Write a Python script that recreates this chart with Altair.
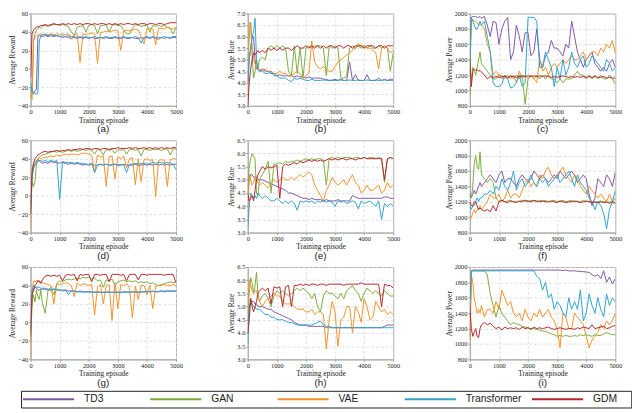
import altair as alt
import pandas as pd

# ---------------- data ----------------
episodes = [0, 50, 100, 150, 200, 250, 300, 350, 400,
            500, 600, 700, 800, 900, 1000, 1100, 1200, 1300, 1400,
            1500, 1600, 1700, 1800, 1900, 2000, 2100, 2200, 2300, 2400,
            2500, 2600, 2700, 2800, 2900, 3000, 3100, 3200, 3300, 3400,
            3500, 3600, 3700, 3800, 3900, 4000, 4100, 4200, 4300, 4400,
            4500, 4600, 4700, 4800, 4900, 5000]

series_names = ["TD3", "GAN", "VAE", "Transformer", "GDM"]
series_colors = ["#7E57A8", "#7AAC3C", "#F3922A", "#2EA3CB", "#B8262B"]

# (a) reward
a_td3 = [-20, -25, -27, -24, -22, 35, 36, 36, 35,
         36, 35, 36, 35, 36, 35, 34, 35, 34, 33,
         34, 33, 34, 33, 34, 33, 34, 33, 33, 34,
         33, 34, 33, 33, 34, 33, 33, 34, 33, 33,
         34, 33, 33, 34, 33, 34, 33, 34, 33, 32,
         34, 33, 34, 33, 34, 34]
a_gan = [-30, -28, 30, 38, 42, 44, 45, 44, 46,
         47, 46, 47, 48, 48, 47, 48, 47, 46, 40,
         36, 45, 46, 47, 40, 47, 48, 47, 38, 47,
         47, 48, 40, 47, 48, 47, 47, 42, 38, 38,
         44, 48, 47, 46, 47, 47, 40, 47, 46, 47,
         46, 47, 45, 44, 38, 44]
a_vae = [-25, -33, 30, 34, 36, 37, 37, 38, 37,
         38, 37, 38, 37, 38, 37, 38, 37, 38, 32,
         37, 38, 7, 38, 37, 38, 39, 38, 6, 39,
         40, 41, 40, 41, 42, 41, 20, 41, 42, 41,
         42, 43, 42, 35, 27, 43, 44, 43, 26, 44,
         44, 43, 45, 44, 43, 45]
a_trf = [-15, -22, -27, -27, -27, -26, 30, 36, 37,
         37, 36, 37, 36, 36, 35, 36, 35, 36, 35,
         35, 34, 35, 34, 35, 34, 34, 35, 34, 34,
         34, 35, 34, 34, 35, 34, 34, 35, 34, 34,
         34, 35, 34, 28, 34, 35, 34, 35, 34, 34,
         34, 35, 34, 34, 35, 35]
a_gdm = [-10, 38, 42, 44, 45, 46, 46, 47, 47,
         48, 47, 48, 49, 48, 48, 49, 48, 49, 48,
         49, 48, 49, 48, 49, 49, 48, 49, 48, 49,
         49, 48, 49, 48, 49, 48, 49, 48, 49, 49,
         48, 49, 48, 49, 49, 48, 49, 49, 48, 49,
         49, 48, 49, 50, 50, 50]

# (b) rate
b_td3 = [4.0, 5.0, 5.5, 6.0, 6.0, 5.0, 4.6, 4.6, 4.5,
         4.6, 4.5, 4.5, 4.4, 4.4, 4.3, 4.35, 4.3, 4.3, 4.3,
         4.3, 4.25, 4.3, 4.25, 4.25, 4.2, 4.25, 4.2, 4.2, 4.2,
         4.2, 4.15, 4.15, 4.1, 4.1, 4.15, 4.1, 4.15, 4.1, 4.1,
         4.9, 4.1, 4.35, 4.1, 4.1, 4.1, 4.35, 4.1, 4.1, 4.1,
         4.2, 4.1, 4.15, 4.1, 4.15, 4.15]
b_gan = [5.0, 6.0, 6.6, 5.2, 4.2, 4.5, 5.0, 4.6, 5.0,
         5.1, 5.0, 5.5, 5.6, 5.5, 5.6, 5.5, 5.6, 5.5, 4.5,
         4.3, 5.6, 4.4, 5.5, 4.2, 5.5, 5.6, 5.5, 5.6, 5.6,
         5.6, 5.5, 4.3, 5.6, 5.5, 5.6, 5.5, 4.2, 4.2, 4.3,
         5.5, 5.6, 5.5, 5.6, 5.5, 5.6, 5.5, 5.6, 5.5, 5.5,
         5.6, 5.5, 5.6, 5.5, 4.5, 5.3]
b_vae = [4.5, 6.6, 6.6, 5.5, 5.0, 4.8, 4.7, 4.6, 4.6,
         4.5, 4.6, 4.5, 4.5, 4.4, 4.4, 4.5, 4.4, 4.4, 4.3,
         4.3, 4.4, 4.5, 4.4, 4.2, 4.3, 4.4, 5.8, 4.9, 4.7,
         4.6, 4.7, 4.6, 4.5, 4.5, 4.7, 4.9, 5.0, 5.1, 5.2,
         5.3, 5.4, 5.5, 5.7, 5.6, 5.6, 5.5, 5.5, 5.4, 5.3,
         4.6, 5.5, 5.6, 5.5, 5.3, 5.4]
b_trf = [4.0, 5.0, 5.5, 6.0, 6.2, 6.8, 5.0, 4.6, 4.5,
         4.5, 4.4, 4.4, 4.5, 4.3, 4.3, 4.2, 4.2, 4.2, 4.1,
         4.05, 4.2, 4.15, 4.2, 4.15, 4.1, 4.1, 4.15, 4.1, 4.1,
         4.1, 4.12, 4.1, 4.1, 4.12, 4.1, 4.1, 4.12, 4.1, 4.1,
         4.12, 4.1, 4.1, 4.12, 4.1, 4.1, 4.12, 4.1, 4.1, 4.12,
         4.1, 4.1, 4.12, 4.1, 4.1, 4.1]
b_gdm = [3.0, 4.0, 4.6, 5.0, 5.3, 5.2, 5.3, 5.4, 5.3,
         5.4, 5.3, 5.5, 5.4, 5.5, 5.4, 5.5, 5.4, 5.5, 5.5,
         5.4, 5.5, 5.6, 5.5, 5.5, 5.6, 5.5, 5.6, 5.5, 5.6,
         5.5, 5.6, 5.5, 5.6, 5.6, 5.5, 5.6, 5.6, 5.5, 5.6,
         5.6, 5.5, 5.6, 5.6, 5.6, 5.5, 5.6, 5.6, 5.6, 5.5,
         5.6, 5.6, 5.5, 5.6, 5.6, 5.6]

# (c) power
c_td3 = [1400, 1950, 1960, 1960, 1960, 1950, 1950, 1960, 1940,
         1960, 1850, 1700, 1900, 1880, 1600, 1800, 1900, 1950, 1400,
         1500, 1850, 1700, 1500, 1750, 1750, 1450, 1500, 1800, 1400,
         1300, 1450, 1500, 1650, 1550, 1550, 1500, 1450, 1600, 1550,
         1900, 1700, 1500, 1400, 1300, 1400, 1450, 1500, 1350, 1300,
         1250, 1300, 1250, 1350, 1400, 1300]
c_gan = [950, 1150, 1300, 1250, 1200, 1300, 1400, 1500, 1350,
         1300, 1250, 1200, 1150, 1150, 1200, 1150, 1200, 1150, 1200,
         1150, 1200, 1150, 1200, 820, 1150, 1200, 1150, 1200, 1150,
         1200, 1150, 1200, 1150, 1150, 1100, 1150, 1100, 1150, 1150,
         1150, 1200, 1250, 1200, 1200, 1150, 1200, 1150, 1200, 1150,
         1200, 1150, 1150, 1200, 1150, 1080]
c_vae = [1200, 1900, 1920, 1900, 1900, 1880, 1850, 1850, 1850,
         1800, 1600, 1500, 1200, 1250, 1200, 1200, 1150, 1200, 1150,
         1200, 1100, 1250, 1150, 1200, 1150, 1200, 1150, 1100, 1400,
         1250, 1300, 1200, 1300, 1350, 1300, 1350, 1400, 1350, 1400,
         1450, 1400, 1400, 1450, 1500, 1400, 1450, 1500, 1500, 1450,
         1550, 1500, 1600, 1550, 1650, 1480]
c_trf = [1200, 1950, 1900, 1850, 1800, 1800, 1850, 1900, 1850,
         1900, 1700, 1500, 1100, 1050, 1050, 1080, 1200, 1150, 1030,
         1050, 1100, 1200, 1050, 1100, 1950, 1950, 1950, 1900, 1300,
         1300, 1500, 1400, 1300, 1050, 1300, 1150, 1400, 1200, 1300,
         1500, 1350, 1300, 1400, 1450, 1300, 1350, 1450, 1400, 1350,
         1300, 1250, 1400, 1350, 1250, 1300]
c_gdm = [1400, 1050, 1250, 1280, 1260, 1270, 1250, 1260, 1240,
         1200, 1150, 1180, 1170, 1180, 1170, 1180, 1180, 1170, 1180,
         1180, 1170, 1180, 1190, 1180, 1190, 1180, 1190, 1180, 1190,
         1180, 1190, 1180, 1170, 1180, 1170, 1180, 1190, 1180, 1170,
         1180, 1170, 1180, 1170, 1180, 1170, 1180, 1170, 1180, 1170,
         1170, 1180, 1160, 1170, 1160, 1160]

# (d) reward
d_td3 = [-10, 20, 30, 33, 35, 37, 38, 36, 35,
         36, 35, 37, 36, 36, 35, 36, 35, 34, 35,
         34, 35, 34, 33, 34, 33, 34, 33, 33, 34,
         33, 34, 33, 33, 34, 33, 33, 34, 33, 33,
         33, 34, 33, 33, 34, 33, 34, 33, 34, 33,
         34, 33, 34, 33, 34, 34]
d_gan = [-20, 15, 10, 15, 35, 40, 42, 43, 44,
         45, 46, 47, 48, 47, 48, 47, 48, 49, 48,
         49, 48, 49, 50, 49, 50, 49, 45, 50, 49,
         44, 50, 49, 50, 46, 50, 49, 50, 45, 50,
         50, 49, 50, 43, 50, 50, 49, 50, 50, 50,
         49, 50, 51, 44, 51, 50]
d_vae = [-37, 28, 35, 37, 38, 39, 40, 40, 41,
         41, 42, 43, 42, 44, 43, 44, 45, 44, 45,
         45, 44, 45, 46, 46, 45, 44, 25, 44, 42,
         43, 10, 42, 43, 18, 42, 40, 43, 30, 40,
         41, 12, 40, 15, 39, 40, 38, 39, -1, 38,
         39, 38, 10, 39, 40, 40]
d_trf = [-15, 20, 30, 35, 37, 38, 38, 38, 37,
         38, 37, 38, 37, 38, -4, 37, 36, 36, 36,
         35, 36, 35, 35, 34, 34, 35, 25, 33, 34,
         33, 34, 33, 34, 34, 33, 34, 33, 25, 34,
         34, 35, 34, 35, 35, 34, 35, 36, 35, 36,
         36, 35, 36, 35, 34, 28]
d_gdm = [-20, 25, 35, 40, 42, 44, 45, 46, 47,
         48, 47, 48, 48, 49, 48, 49, 49, 50, 49,
         50, 50, 51, 50, 51, 51, 50, 51, 51, 50,
         51, 51, 50, 51, 51, 52, 51, 51, 51, 52,
         51, 52, 51, 51, 52, 51, 52, 51, 52, 51,
         52, 51, 52, 51, 52, 52]

# (e) rate
e_td3 = [4.5, 5.0, 5.2, 5.2, 5.1, 5.1, 5.1, 5.0, 5.0,
         5.0, 4.95, 4.9, 4.85, 4.8, 4.75, 4.7, 4.65, 4.6, 4.5,
         4.5, 4.45, 4.4, 4.35, 4.3, 4.3, 4.25, 4.3, 4.25, 4.25,
         4.25, 4.2, 4.25, 4.2, 4.2, 4.2, 4.25, 4.2, 4.2, 4.2,
         4.2, 4.4, 4.35, 4.3, 4.3, 4.3, 4.3, 4.3, 4.3, 4.3,
         4.3, 4.3, 4.35, 4.35, 4.3, 4.3]
e_gan = [4.7, 5.5, 5.8, 6.0, 5.9, 5.8, 4.5, 4.4, 5.0,
         5.2, 5.4, 5.7, 4.5, 5.6, 5.6, 5.65, 5.6, 5.7, 5.65,
         5.7, 5.7, 5.75, 5.7, 5.75, 5.8, 5.75, 5.8, 5.75, 5.8,
         5.8, 5.75, 4.8, 5.8, 5.85, 5.8, 5.85, 5.8, 5.85, 5.85,
         5.85, 5.8, 5.85, 5.85, 5.8, 5.85, 5.8, 5.85, 5.85, 5.8,
         5.85, 5.8, 4.9, 5.8, 5.85, 5.8]
e_vae = [3.5, 5.2, 5.0, 4.8, 4.9, 5.1, 5.0, 4.9, 4.8,
         4.9, 4.8, 4.7, 4.9, 5.0, 4.9, 5.0, 5.1, 5.0, 5.0,
         5.1, 5.0, 5.1, 5.2, 5.1, 5.2, 5.3, 5.2, 4.8, 4.6,
         4.4, 4.2, 4.6, 4.8, 5.1, 4.9, 4.8, 4.9, 5.0, 4.8,
         5.0, 5.2, 4.9, 4.8, 4.5, 4.6, 4.8, 4.6, 4.6, 4.7,
         4.8, 4.5, 4.6, 4.9, 4.7, 4.8]
e_trf = [3.2, 4.0, 4.5, 4.4, 4.3, 4.4, 4.3, 4.5, 4.4,
         4.3, 4.4, 4.3, 4.2, 4.2, 4.3, 4.2, 4.1, 4.2, 4.1,
         4.2, 4.1, 3.85, 4.2, 4.15, 4.2, 4.15, 4.2, 4.1, 4.2,
         4.15, 4.2, 4.15, 4.2, 4.15, 4.0, 4.2, 4.15, 4.2, 4.1,
         4.15, 4.2, 4.15, 3.9, 4.2, 4.1, 4.15, 4.2, 4.1, 4.0,
         4.2, 3.5, 4.1, 4.0, 4.1, 4.0]
e_gdm = [4.5, 4.2, 4.3, 4.4, 4.2, 4.6, 5.0, 5.2, 5.3,
         5.5, 5.4, 5.5, 5.45, 5.5, 5.55, 4.3, 5.5, 5.6, 5.55,
         5.6, 5.65, 5.6, 5.7, 5.65, 5.7, 5.75, 5.7, 5.75, 5.7,
         5.75, 5.7, 5.75, 5.8, 5.75, 5.8, 5.75, 5.8, 5.8, 5.75,
         5.8, 5.8, 5.75, 5.8, 5.8, 5.85, 5.8, 5.8, 5.8, 5.8,
         5.8, 5.8, 5.0, 5.8, 5.85, 5.8]

# (f) power
f_td3 = [1300, 1250, 1300, 1350, 1300, 1350, 1400, 1450, 1400,
         1450, 1500, 1550, 1500, 1450, 1550, 1600, 1450, 1500, 1500,
         1450, 1400, 1500, 1550, 1500, 1450, 1500, 1600, 1550, 1500,
         1550, 1500, 1450, 1500, 1550, 1500, 1600, 1550, 1500, 1550,
         1600, 1550, 1450, 1500, 1550, 1500, 1300, 1150, 1250, 1500,
         1450, 1400, 1550, 1500, 1400, 1580]
f_gan = [1300, 1250, 1400, 1700, 1800, 1650, 1620, 1850, 1550,
         1500, 1450, 1500, 1450, 1250, 1200, 1220, 1200, 1210, 1220,
         1200, 1210, 1200, 1220, 1210, 1200, 1220, 1210, 1200, 1220,
         1210, 1220, 1200, 1210, 1220, 1200, 1210, 1220, 1200, 1210,
         1220, 1200, 1210, 1200, 1220, 1200, 1210, 1200, 1190, 1200,
         1210, 1200, 1190, 1200, 1190, 1180]
f_vae = [950, 1000, 1050, 1100, 1050, 1100, 1100, 1150, 1100,
         1150, 1200, 1300, 1250, 1250, 1300, 1200, 1250, 1350, 1250,
         1300, 1300, 1250, 1350, 1450, 1500, 1400, 1450, 1400, 1550,
         1500, 1600, 1650, 1550, 1500, 1550, 1600, 1650, 1550, 1500,
         1450, 1550, 1500, 1400, 1350, 1300, 1400, 1350, 1300, 1250,
         1300, 1250, 1200, 1300, 1200, 1250]
f_trf = [1150, 1100, 1150, 1150, 1200, 1250, 1200, 1250, 1250,
         1300, 1300, 1350, 1300, 1400, 1350, 1500, 1400, 1350, 1450,
         1600, 1350, 1450, 1500, 1400, 1450, 1550, 1450, 1400, 1500,
         1450, 1500, 1400, 1450, 1500, 1550, 1450, 1500, 1550, 1600,
         1500, 1400, 1550, 1450, 1400, 1350, 1250, 1200, 1100, 1200,
         1150, 1050, 850, 1100, 1200, 1350]
f_gdm = [1200, 1150, 1150, 1200, 1200, 1150, 1100, 1120, 1100,
         1080, 1100, 1070, 1150, 1080, 1200, 1220, 1200, 1190, 1210,
         1200, 1190, 1210, 1200, 1220, 1210, 1200, 1220, 1210, 1200,
         1210, 1200, 1200, 1210, 1200, 1190, 1210, 1200, 1190, 1200,
         1200, 1210, 1200, 1190, 1200, 1210, 1200, 1190, 1200, 1190,
         1200, 1190, 1200, 1180, 1200, 1190]

# (g) reward
g_td3 = [-10, 30, 35, 38, 37, 35, 35, 36, 36,
         36, 35, 35, 36, 35, 35, 34, 35, 34, 34,
         34, 33, 34, 33, 33, 33.5, 33, 32.5, 33, 33,
         32.5, 33, 33, 32.5, 33, 33, 32.5, 33, 33, 32.5,
         33, 33, 32.5, 33, 33, 34, 33, 34, 33, 33,
         34, 33, 34, 34, 33.5, 34]
g_gan = [-20, 20, 30, 22, 35, 28, 25, 35, 22,
         10, 35, 38, 30, 42, 45, 44, 46, 47, 46,
         47, 48, 47, 49, 48, 49, 47, 48, 45, 46,
         38, 46, 45, 47, 40, 44, 45, 46, 44, 45,
         44, 45, 43, 44, 43, 44, 42, 43, 41, 40,
         41, 42, 43, 44, 43, 44]
g_vae = [-40, 30, 45, 44, 45, 45, 43, 44, 43,
         42, 41, 40, 20, 42, 41, 42, 43, 42, 40,
         28, 43, 40, 42, 41, 40, 41, 8, 38, 41,
         20, 40, 41, 2, 43, 15, 41, 40, 42, 38,
         5, 39, 25, 40, 40, 30, 40, 15, 39, 40,
         40, 41, 40, 40, 41, 40]
g_trf = [-10, 35, 40, 39, 38, 38, 38, 37, 37,
         37, 36, 36, 36, 36, 35, 35, 35, 30, 34,
         34, 33, 33, 33, 33, 33, 32.5, 33, 32.5, 32.5,
         32.5, 32.5, 32.5, 32.5, 32.5, 32.5, 32.5, 33, 32.5, 33,
         33, 33, 33, 33, 33, 33, 33.5, 33.5, 33.5, 33.5,
         34, 34, 34, 34, 34, 34]
g_gdm = [-15, 30, 35, 40, 42, 45, 45, 42, 46,
         50, 51, 50, 51, 50, 51, 45, 51, 52, 51,
         52, 45, 52, 51, 52, 52, 44, 52, 52, 51,
         52, 52, 44, 52, 52, 52, 51, 52, 45, 52,
         52, 52, 46, 52, 52, 51, 52, 52, 52, 52,
         52, 51, 52, 52, 52, 43]

# (h) rate
h_td3 = [4.0, 5.0, 5.1, 5.2, 5.2, 5.1, 5.1, 5.0, 5.0,
         5.0, 4.95, 4.9, 4.9, 4.8, 4.75, 4.7, 4.65, 4.6, 4.55,
         4.5, 4.4, 4.35, 4.3, 4.3, 4.3, 4.25, 4.25, 4.25, 4.25,
         4.25, 4.25, 4.2, 4.2, 4.2, 4.2, 4.2, 4.2, 4.2, 4.2,
         4.2, 4.2, 4.2, 4.2, 4.2, 4.2, 4.2, 4.2, 4.2, 4.2,
         4.2, 4.2, 4.25, 4.3, 4.3, 4.3]
h_gan = [4.5, 5.5, 6.1, 5.9, 5.5, 5.8, 6.3, 5.5, 5.2,
         5.4, 5.5, 5.3, 5.0, 5.4, 5.6, 5.5, 5.6, 5.5, 5.4,
         5.5, 5.6, 5.7, 5.6, 5.7, 5.6, 5.5, 5.3, 5.5, 5.0,
         4.8, 5.4, 5.6, 5.5, 5.5, 5.4, 5.3, 5.5, 5.3, 5.6,
         5.7, 5.8, 5.6, 5.5, 5.2, 5.5, 5.7, 5.6, 5.5, 5.6,
         5.5, 5.4, 5.6, 5.5, 5.4, 5.4]
h_vae = [4.8, 6.0, 5.8, 5.6, 5.5, 5.6, 5.6, 5.4, 5.2,
         5.0, 5.2, 5.3, 5.4, 5.5, 5.4, 5.4, 5.2, 5.1, 5.1,
         5.1, 5.0, 4.9, 4.9, 4.9, 4.8, 4.8, 4.9, 4.7, 4.8,
         4.8, 4.7, 3.4, 4.5, 5.2, 4.8, 3.5, 4.5, 4.6, 5.0,
         5.0, 4.0, 5.0, 4.8, 4.4, 5.3, 5.0, 4.5, 4.6, 5.2,
         5.0, 4.8, 4.9, 4.7, 4.8, 4.7]
h_trf = [3.6, 5.0, 5.3, 5.1, 5.0, 5.0, 4.9, 4.9, 4.9,
         4.8, 4.7, 4.7, 4.6, 4.6, 4.5, 4.5, 4.5, 4.45, 4.4,
         4.4, 4.35, 4.3, 4.3, 4.3, 4.3, 4.3, 4.3, 4.35, 4.4,
         4.45, 4.3, 4.25, 4.25, 4.2, 4.2, 4.2, 4.2, 4.2, 4.2,
         4.2, 4.2, 4.2, 4.2, 4.2, 4.2, 4.2, 4.2, 4.2, 4.2,
         4.2, 4.2, 4.2, 4.2, 4.2, 4.2]
h_gdm = [4.0, 4.5, 5.3, 5.0, 4.8, 5.0, 5.2, 5.5, 5.6,
         5.7, 5.6, 5.7, 5.1, 5.75, 5.7, 5.75, 5.0, 5.75, 5.8,
         5.0, 5.8, 5.8, 5.85, 5.8, 5.85, 5.8, 5.85, 5.85, 5.8,
         5.85, 5.85, 5.8, 5.85, 5.85, 5.85, 5.85, 5.85, 5.8, 5.85,
         5.85, 5.85, 5.85, 5.85, 5.9, 5.85, 5.85, 5.85, 5.85, 5.85,
         5.85, 5.0, 5.85, 5.8, 5.8, 5.7]

# (i) power
i_td3 = [1100, 1950, 1960, 1960, 1960, 1960, 1960, 1960, 1960,
         1960, 1960, 1960, 1960, 1960, 1960, 1960, 1960, 1960, 1960,
         1960, 1960, 1960, 1960, 1960, 1960, 1960, 1960, 1960, 1960,
         1960, 1960, 1960, 1960, 1960, 1960, 1960, 1955, 1960, 1950,
         1950, 1950, 1945, 1940, 1940, 1935, 1930, 1900, 1880, 1900,
         1850, 1950, 1800, 1870, 1780, 1850]
i_gan = [1050, 1950, 1950, 1950, 1950, 1950, 1950, 1950, 1950,
         1950, 1900, 1650, 1500, 1350, 1500, 1400, 1350, 1300, 1250,
         1280, 1260, 1250, 1230, 1220, 1210, 1200, 1200, 1190, 1180,
         1170, 1160, 1150, 1130, 1120, 1100, 1110, 1100, 1110, 1100,
         1100, 1110, 1100, 1120, 1110, 1120, 1110, 1100, 1120, 1110,
         1110, 1130, 1150, 1130, 1120, 1120]
i_vae = [1050, 1900, 1800, 1600, 1500, 1400, 1450, 1400, 1500,
         1350, 1450, 1450, 1400, 1550, 1450, 1700, 1600, 1500, 1550,
         1400, 1350, 1400, 1300, 1450, 1350, 1300, 1400, 1350, 1450,
         1350, 1400, 1450, 1350, 1300, 1200, 950, 1400, 1350, 1200,
         1200, 1400, 1350, 1300, 1250, 1100, 950, 1050, 1100, 1150,
         1250, 1200, 1300, 1250, 1300, 1400]
i_trf = [1500, 1940, 1950, 1950, 1950, 1950, 1950, 1950, 1950,
         1950, 1950, 1950, 1950, 1950, 1950, 1950, 1950, 1950, 1950,
         1950, 1950, 1950, 1950, 1950, 1950, 1950, 1950, 1880, 1850,
         1700, 1800, 1600, 1650, 1450, 1550, 1500, 1400, 1350, 1600,
         1450, 1550, 1450, 1700, 1300, 1400, 1650, 1500, 1400, 1600,
         1450, 1350, 1650, 1500, 1600, 1550]
i_gdm = [1500, 1200, 1100, 1150, 1200, 1100, 1080, 1200, 1250,
         1280, 1250, 1270, 1230, 1200, 1220, 1180, 1220, 1200, 1210,
         1200, 1210, 1190, 1220, 1200, 1210, 1190, 1220, 1200, 1210,
         1200, 1210, 1220, 1200, 1190, 1200, 1210, 1200, 1190, 1200,
         1200, 1190, 1210, 1200, 1220, 1210, 1200, 1250, 1200, 1210,
         1220, 1230, 1200, 1210, 1230, 1240]

x_ticks = [0, 1000, 2000, 3000, 4000, 5000]
reward_ticks = [-40, -20, 0, 20, 40, 60]
rate_ticks_b = [3.0, 3.5, 4.0, 4.5, 5.0, 5.5, 6.0, 6.5, 7.0]
rate_ticks = [3.0, 3.5, 4.0, 4.5, 5.0, 5.5, 6.0, 6.5]
power_ticks = [800, 1000, 1200, 1400, 1600, 1800, 2000]

panels = [
    ("(a)", "Average Reward", [-40, 60], reward_ticks, "d", [a_td3, a_gan, a_vae, a_trf, a_gdm]),
    ("(b)", "Average Rate", [3.0, 7.0], rate_ticks_b, ".1f", [b_td3, b_gan, b_vae, b_trf, b_gdm]),
    ("(c)", "Average Power", [800, 2000], power_ticks, "d", [c_td3, c_gan, c_vae, c_trf, c_gdm]),
    ("(d)", "Average Reward", [-40, 60], reward_ticks, "d", [d_td3, d_gan, d_vae, d_trf, d_gdm]),
    ("(e)", "Average Rate", [3.0, 6.5], rate_ticks, ".1f", [e_td3, e_gan, e_vae, e_trf, e_gdm]),
    ("(f)", "Average Power", [800, 2000], power_ticks, "d", [f_td3, f_gan, f_vae, f_trf, f_gdm]),
    ("(g)", "Average Reward", [-40, 60], reward_ticks, "d", [g_td3, g_gan, g_vae, g_trf, g_gdm]),
    ("(h)", "Average Rate", [3.0, 6.5], rate_ticks, ".1f", [h_td3, h_gan, h_vae, h_trf, h_gdm]),
    ("(i)", "Average Power", [800, 2000], power_ticks, "d", [i_td3, i_gan, i_vae, i_trf, i_gdm]),
]

PW, PH = 148, 94
color_scale = alt.Scale(domain=series_names, range=series_colors)


def make_panel(label, ytitle, ydom, yticks, yfmt, values):
    rows = []
    for name, vals in zip(series_names, values):
        for ep, v in zip(episodes, vals):
            rows.append({"episode": ep, "value": v, "series": name})
    df = pd.DataFrame(rows)
    return alt.Chart(df).mark_line(strokeWidth=1, clip=True).encode(
        x=alt.X("episode:Q", scale=alt.Scale(domain=[0, 5000], nice=False),
                axis=alt.Axis(values=x_ticks, title="Training episode", format="d", labelFlush=False)),
        y=alt.Y("value:Q", scale=alt.Scale(domain=ydom, nice=False, zero=False),
                axis=alt.Axis(values=yticks, title=ytitle, format=yfmt, labelFlush=False)),
        color=alt.Color("series:N", scale=color_scale, legend=None),
        order=alt.Order("episode:Q"),
    ).properties(width=PW, height=PH,
                 title=alt.TitleParams(label, orient="bottom", font="Liberation Sans",
                                       fontSize=10, fontWeight="normal", offset=1, color="#222"))


charts = [make_panel(*p) for p in panels]
grid_rows = [alt.hconcat(*charts[r * 3:(r + 1) * 3], spacing=45) for r in range(3)]

legend_df = pd.DataFrame({"series": series_names})
leg_x = alt.X("series:N",
              scale=alt.Scale(type="point", domain=series_names, range=[2, 520], padding=0),
              axis=None)
legend_lines = alt.Chart(legend_df).mark_point(
    shape="M0,0L2,0", size=2704, filled=False, strokeWidth=2, opacity=1
).encode(x=leg_x, color=alt.Color("series:N", scale=color_scale, legend=None))
legend_text = alt.Chart(legend_df).mark_text(
    align="left", baseline="middle", dx=62, font="Liberation Sans", fontSize=10.5, color="#222"
).encode(x=leg_x, text="series:N")
legend_chart = alt.layer(legend_lines, legend_text).properties(
    width=621, height=17, view=alt.ViewBackground(stroke="#222", strokeWidth=1)
)

chart = alt.vconcat(*grid_rows, legend_chart, spacing=1, center=True).properties(
    padding={"top": -2, "left": 0, "right": 0, "bottom": 0}
).configure_axis(
    labelFont="Liberation Serif", labelFontSize=6.5, labelColor="#222",
    titleFont="Liberation Serif", titleFontSize=7.5, titleFontWeight="normal", titleColor="#222",
    gridDash=[3, 2], gridColor="#d6d6d6", gridWidth=0.8,
    tickColor="#999", tickSize=2, labelPadding=1, titlePadding=1,
    domainColor="#aaa",
).configure_view(stroke="#aaa", strokeWidth=1)

chart.save("out.html", embed_options={"renderer": "svg", "actions": False})
